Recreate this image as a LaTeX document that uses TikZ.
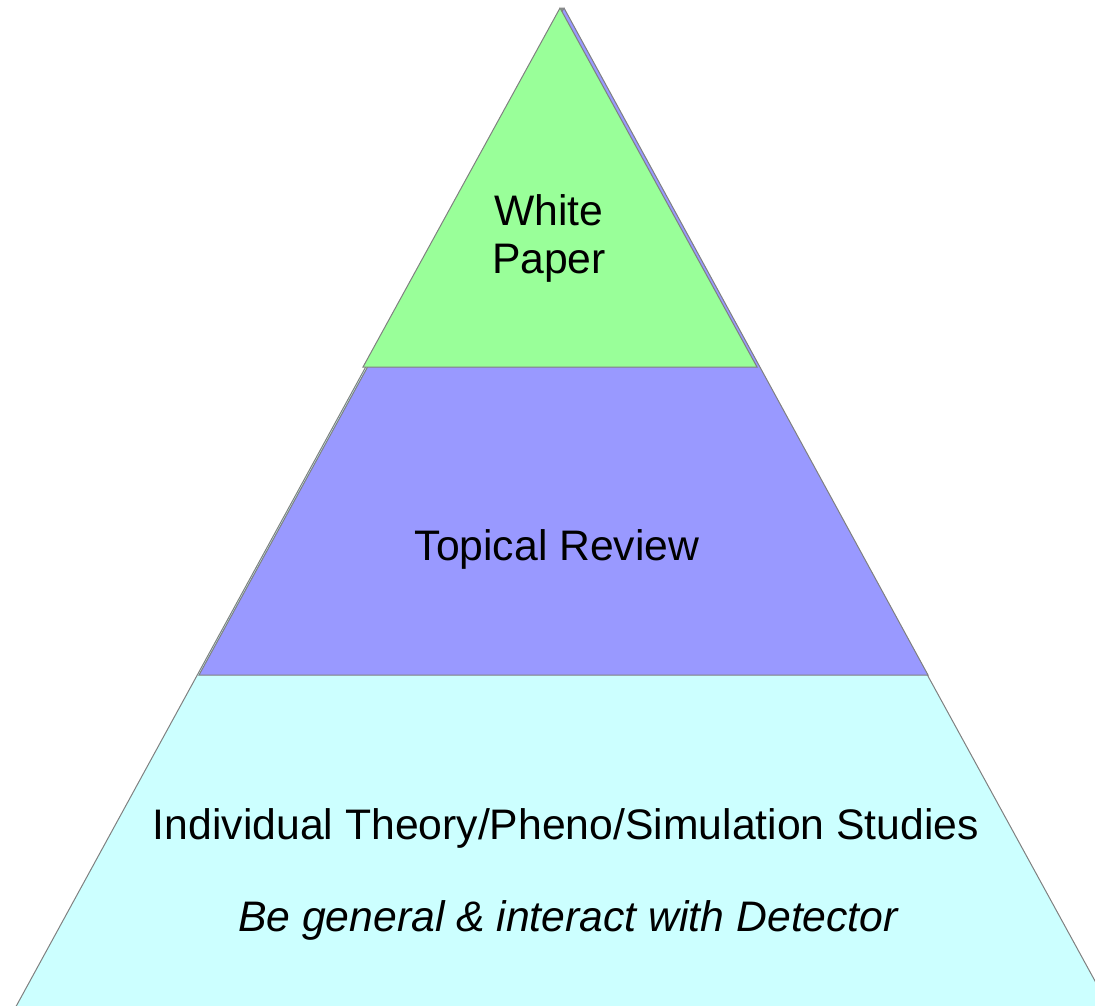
\documentclass[tikz,border=0pt]{standalone}
\usepackage{fontspec}
\setmainfont{Liberation Sans}
\definecolor{paperGreen}{HTML}{99FF99}
\definecolor{reviewBlue}{HTML}{9999FF}
\definecolor{studyCyan}{HTML}{CCFFFF}
\definecolor{edgeGray}{HTML}{808080}
\tikzset{
  layer/.style={draw=edgeGray,line width=1pt,line join=miter},
  layertext/.style={align=center,font=\fontsize{42.7}{48}\selectfont}
}

\newcommand{\pyramid}{
  \coordinate (c0) at (562,-8);
  \coordinate (c1) at (13,-1012);
  \coordinate (c2) at (1112,-1012);

  \coordinate (b0) at (564,-8);
  \coordinate (b1) at (199,-675);
  \coordinate (b2) at (928,-675);

  \coordinate (g0) at (560,-8);
  \coordinate (g1) at (363,-367);
  \coordinate (g2) at (757,-367);

  \draw [layer,fill=studyCyan] (c0) -- (c1) -- (c2) -- cycle;
  \draw [layer,fill=reviewBlue] (b0) -- (b1) -- (b2) -- cycle;
  \draw [layer,fill=paperGreen] (g0) -- (g1) -- (g2) -- cycle;
}

\begin{document}
\begin{tikzpicture}[x=1pt,y=1pt]
    \useasboundingbox (0,0) rectangle (1095,-1005);
    \clip (0,0) rectangle (1095,-1005);

    \pyramid

    \node [layertext] (white) at (549,-238) {White\\Paper};

    \node [layertext] (topical) at (557,-549) {Topical Review};

    \node [layertext] (studies) at (566,-828) {Individual Theory/Pheno/Simulation Studies};

    \node [layertext,font=\fontsize{42.7}{48}\selectfont\itshape] (general)
    at (568,-920) {Be general \& interact with Detector};
  \end{tikzpicture}
\end{document}
